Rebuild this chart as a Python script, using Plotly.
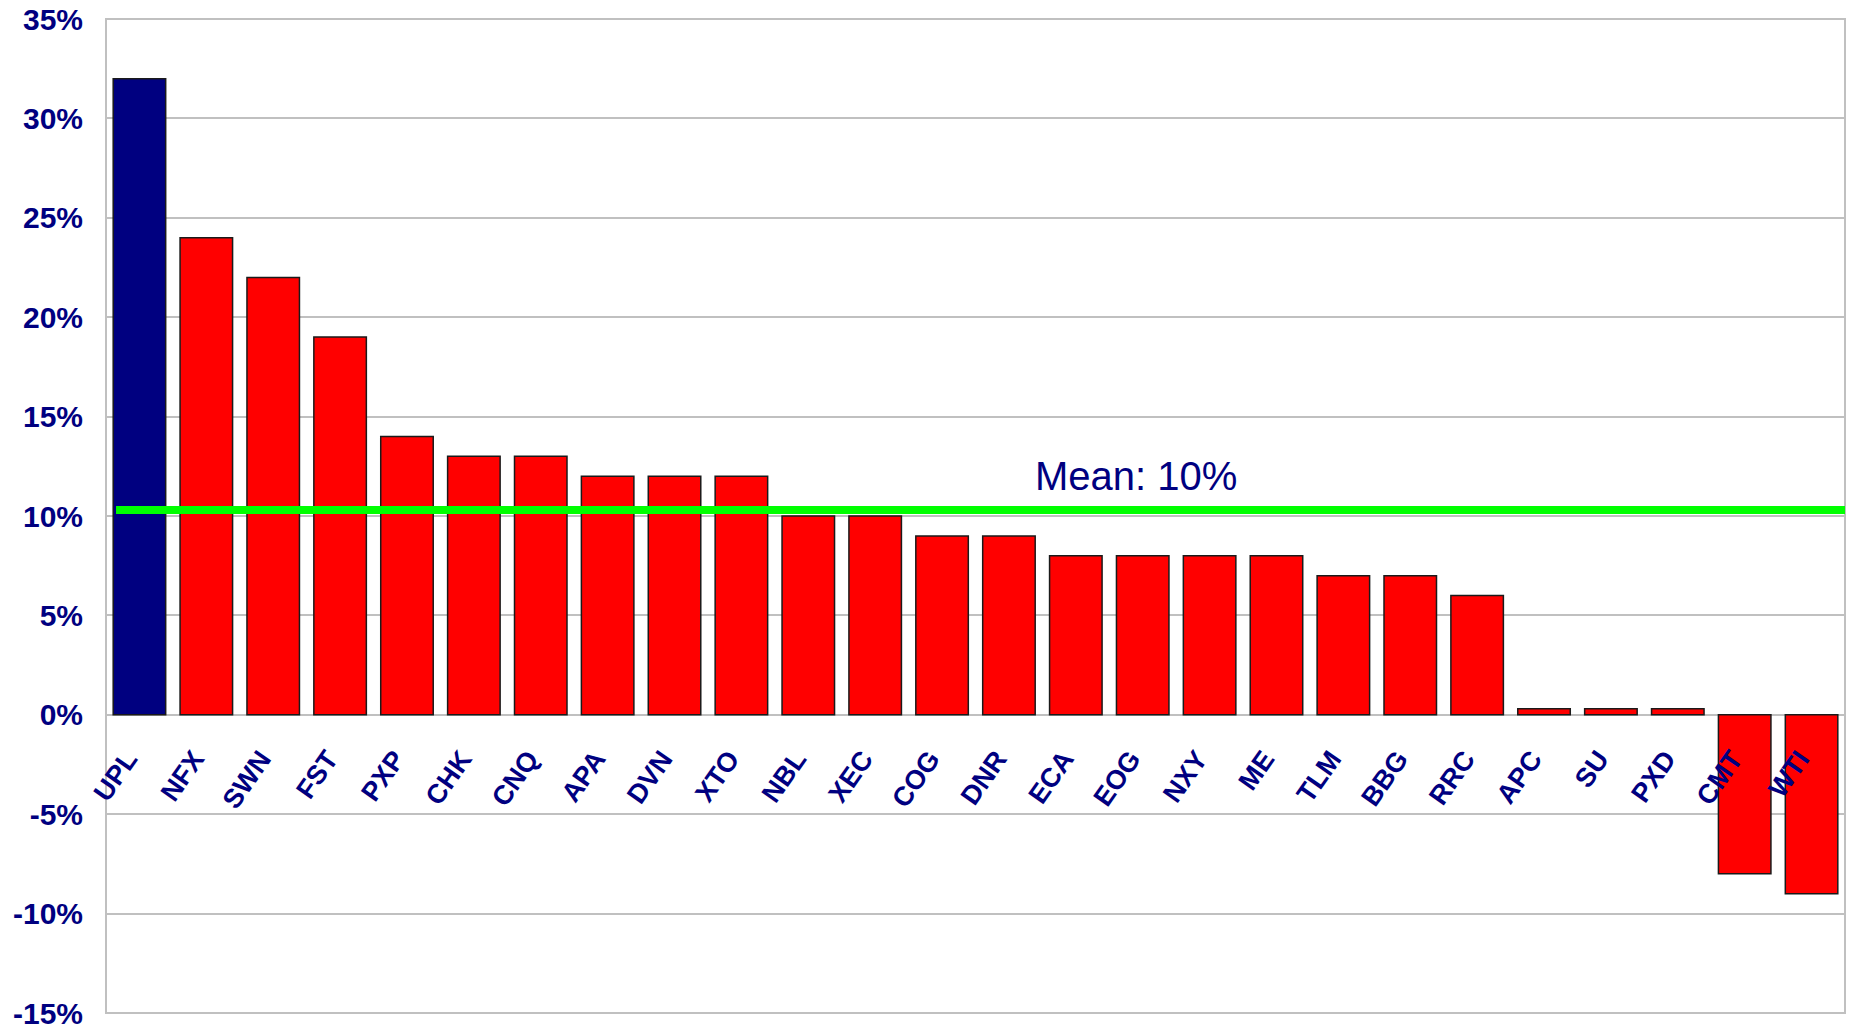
import plotly.graph_objects as go

tickers = ["UPL", "NFX", "SWN", "FST", "PXP", "CHK", "CNQ", "APA", "DVN", "XTO",
           "NBL", "XEC", "COG", "DNR", "ECA", "EOG", "NXY", "ME", "TLM", "BBG",
           "RRC", "APC", "SU", "PXD", "CMT", "WTI"]
returns_pct = [32, 24, 22, 19, 14, 13, 13, 12, 12, 12,
               10, 10, 9, 9, 8, 8, 8, 8, 7, 7,
               6, 0.3, 0.3, 0.3, -8, -9]
highlight = "UPL"
mean_value = 10.3
mean_label = "Mean: 10%"
y_ticks = [-15, -10, -5, 0, 5, 10, 15, 20, 25, 30, 35]
y_tick_text = [f"{v}%" for v in y_ticks]

NAVY = "#000080"
colors = [NAVY if t == highlight else "#FF0000" for t in tickers]
xpos = list(range(len(tickers)))

fig = go.Figure()
fig.add_trace(go.Bar(
    x=xpos, y=returns_pct,
    marker=dict(color=colors, line=dict(color="#1a1a1a", width=1.5)),
    showlegend=False, hoverinfo="skip",
))
fig.add_trace(go.Scatter(
    x=[-0.35, len(tickers) - 0.5], y=[mean_value, mean_value],
    mode="lines", line=dict(color="#00FF00", width=8),
    showlegend=False, hoverinfo="skip",
))
fig.add_annotation(
    x=14.9, y=12.0, text=mean_label, showarrow=False,
    font=dict(family="Liberation Sans, Arial", size=40, color=NAVY),
    xanchor="center", yanchor="middle",
)
# plot frame
fig.add_shape(type="rect", xref="paper", yref="paper", x0=0, y0=0, x1=1, y1=1,
              line=dict(color="#C0C0C0", width=2), layer="below")

fig.update_layout(
    width=1849, height=1028,
    margin=dict(l=106, r=4, t=19, b=15, autoexpand=False),
    paper_bgcolor="white", plot_bgcolor="white",
    bargap=0.215,
    xaxis=dict(
        tickmode="array", tickvals=xpos, ticktext=tickers,
        range=[-0.5, len(tickers) - 0.5],
        anchor="free", position=0.3, automargin=False,
        tickangle=-55, showgrid=False, showline=False, zeroline=False,
        ticks="", ticklabelstandoff=22, ticklabelshift=-12, ticklabeloverflow="allow",
        tickfont=dict(family="Liberation Sans, Arial", size=27, color=NAVY, weight="bold"),
    ),
    yaxis=dict(
        range=[-15, 35], tickmode="array", tickvals=y_ticks, ticktext=y_tick_text,
        showgrid=True, gridcolor="#C0C0C0", gridwidth=2, automargin=False,
        zeroline=True, zerolinecolor="#C0C0C0", zerolinewidth=2,
        showline=False, ticks="", ticklabelstandoff=22, ticklabeloverflow="allow",
        tickfont=dict(family="Liberation Sans, Arial", size=30, color=NAVY, weight="bold"),
    ),
)

# remove the default 8px page margin so the figure fills the window exactly
fig.write_html(
    "out.html",
    config={"displayModeBar": False},
    post_script="document.body.style.margin='0px';document.body.style.overflow='hidden';",
)
